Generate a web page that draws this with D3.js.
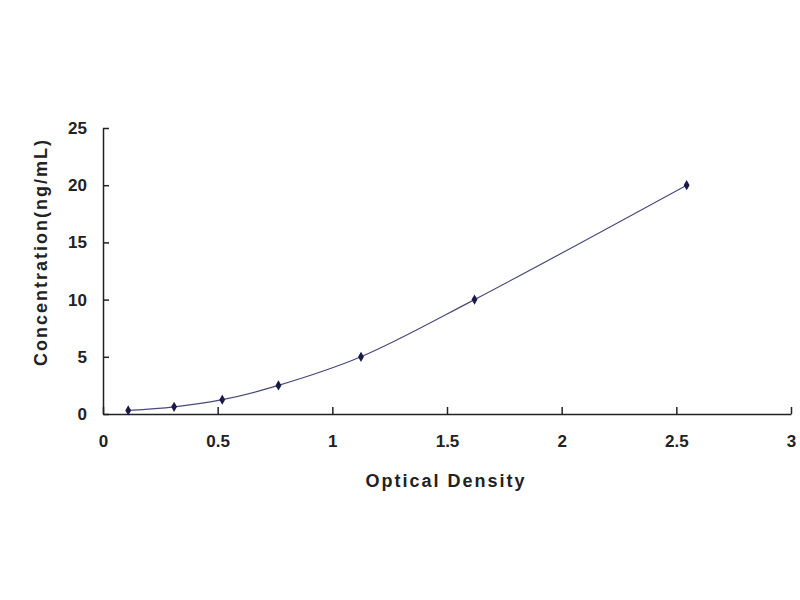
<!DOCTYPE html>
<meta charset="utf-8">
<script src="https://d3js.org/d3.v7.min.js"></script>
<style>
body { margin: 0; background: #fff; }
text { font-family: "Liberation Sans", Arial, sans-serif; font-weight: bold; fill: #222; }
.axis path, .axis line { stroke: #222; stroke-width: 1.5px; }
.axis text { font-size: 17px; }
.title { font-size: 18px; letter-spacing: 2px; }
</style>
<body>
<div id="chart"></div>
<script>
// standard curve points
const od = [0.11, 0.31, 0.52, 0.765, 1.125, 1.62, 2.545];
const conc = [0.312, 0.625, 1.25, 2.5, 5, 10, 20];
const xTicks = [0, 0.5, 1, 1.5, 2, 2.5, 3];
const yTicks = [0, 5, 10, 15, 20, 25];

const width = 800, height = 600;
const margin = {top: 128, right: 9, bottom: 186, left: 103};

const svg = d3.select("#chart").append("svg")
  .attr("width", width)
  .attr("height", height);

const x = d3.scaleLinear().domain([0, 3]).range([margin.left, width - margin.right]);
const y = d3.scaleLinear().domain([0, 25]).range([height - margin.bottom, margin.top]);

// x axis, ticks pointing up
svg.append("g")
  .attr("class", "axis")
  .attr("transform", "translate(0," + y(0) + ")")
  .call(d3.axisBottom(x).tickValues(xTicks).tickFormat(d3.format("")).tickSizeInner(-7).tickSizeOuter(0).tickPadding(21));

// y axis, ticks pointing right
svg.append("g")
  .attr("class", "axis")
  .attr("transform", "translate(" + x(0) + ",0)")
  .call(d3.axisLeft(y).tickValues(yTicks).tickSizeInner(-6).tickSizeOuter(0).tickPadding(16));

svg.selectAll(".axis .domain").attr("stroke-width", 2);

const pts = od.map((d, i) => ({od: d, c: conc[i]}));

const line = d3.line()
  .x(d => x(d.od))
  .y(d => y(d.c))
  .curve(d3.curveCatmullRom);

svg.append("path")
  .datum(pts)
  .attr("d", line)
  .attr("fill", "none")
  .attr("stroke", "#4a4a7a")
  .attr("stroke-width", 1.2);

svg.selectAll(".pt")
  .data(pts)
  .enter()
  .append("path")
  .attr("class", "pt")
  .attr("transform", d => "translate(" + x(d.od) + "," + y(d.c) + ")")
  .attr("d", d3.symbol().type(d3.symbolDiamond).size(30))
  .attr("fill", "#1a1a4a");

// axis titles
svg.append("text")
  .attr("class", "title")
  .attr("x", 446)
  .attr("y", 487)
  .attr("text-anchor", "middle")
  .text("Optical Density");

svg.append("text")
  .attr("class", "title")
  .attr("transform", "translate(47,252) rotate(-90)")
  .attr("text-anchor", "middle")
  .text("Concentration(ng/mL)");
</script>
</body>
